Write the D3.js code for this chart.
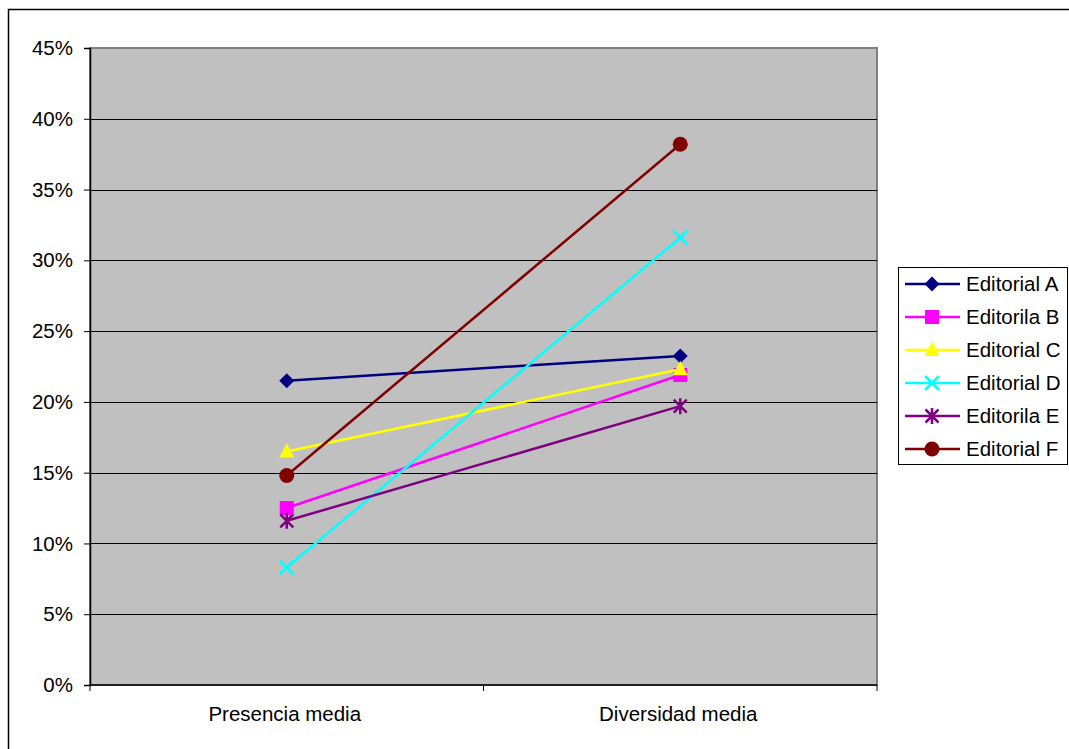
<!DOCTYPE html>
<html>
<head>
<meta charset="utf-8">
<script src="https://cdn.jsdelivr.net/npm/d3@7"></script>
<style>
  html, body { margin: 0; padding: 0; background: #fff; }
  svg { display: block; font-family: "Liberation Sans", Arial, sans-serif; }
</style>
</head>
<body>
<svg id="chart" width="1069" height="749"></svg>
<script>
// Categories on the x axis
const categories = ["Presencia media", "Diversidad media"];

// Series names, colours and symbols
const seriesNames = ["Editorial A", "Editorila B", "Editorial C", "Editorial D", "Editorila E", "Editorial F"];
const seriesColors = ["#000080", "#FF00FF", "#FFFF00", "#00FFFF", "#800080", "#800000"];
const seriesMarkers = ["diamond", "square", "triangle", "x", "asterisk", "circle"];

// Values (fractions) per series, one per category
const valuesA = [0.215, 0.2325];
const valuesB = [0.125, 0.219];
const valuesC = [0.165, 0.223];
const valuesD = [0.083, 0.316];
const valuesE = [0.116, 0.197];
const valuesF = [0.148, 0.382];
const seriesValues = [valuesA, valuesB, valuesC, valuesD, valuesE, valuesF];

// Y axis ticks
const yTicks = [0, 0.05, 0.10, 0.15, 0.20, 0.25, 0.30, 0.35, 0.40, 0.45];

const svg = d3.select("#chart");

// outer chart border
svg.append("rect")
  .attr("x", 8.5).attr("y", 9.5)
  .attr("width", 1069).attr("height", 749)
  .attr("fill", "#fff").attr("stroke", "#000").attr("stroke-width", 1.5);

const plot = { left: 90, top: 48, right: 877, bottom: 685 };

const x = d3.scaleBand().domain(categories).range([plot.left, plot.right]);
const y = d3.scaleLinear().domain([0, 0.45]).range([plot.bottom, plot.top]);

// plot background
svg.append("rect")
  .attr("x", plot.left).attr("y", plot.top)
  .attr("width", plot.right - plot.left).attr("height", plot.bottom - plot.top)
  .attr("fill", "#C0C0C0")
  .attr("stroke", "#808080").attr("stroke-width", 2);

// horizontal gridlines
svg.append("g").selectAll("line")
  .data(yTicks.filter(t => t > 0 && t < 0.45))
  .join("line")
  .attr("x1", plot.left).attr("x2", plot.right)
  .attr("y1", d => Math.round(y(d)) + 0.5).attr("y2", d => Math.round(y(d)) + 0.5)
  .attr("stroke", "#000").attr("stroke-width", 1);

// y axis
const yAxis = d3.axisLeft(y).tickValues(yTicks)
  .tickFormat(d3.format(".0%")).tickSize(6).tickPadding(11);
const gy = svg.append("g").attr("transform", `translate(${plot.left},0)`).call(yAxis);
gy.select(".domain").attr("stroke", "#000").attr("stroke-width", 1.5);
gy.selectAll(".tick line").attr("stroke", "#000");
gy.selectAll(".tick text").attr("font-size", 20.5).attr("fill", "#000")
  .attr("font-family", "Liberation Sans, Arial, sans-serif");

// x axis: ticks at category boundaries
const xAxisG = svg.append("g").attr("transform", `translate(0,${plot.bottom})`);
xAxisG.append("line")
  .attr("x1", plot.left).attr("x2", plot.right)
  .attr("stroke", "#000").attr("stroke-width", 1.5);
const boundaries = [plot.left, ...categories.map(c => x(c) + x.bandwidth())];
xAxisG.selectAll("line.tk").data(boundaries).join("line").attr("class", "tk")
  .attr("x1", d => d).attr("x2", d => d).attr("y1", 0).attr("y2", 6)
  .attr("stroke", "#000");
xAxisG.selectAll("text").data(categories).join("text")
  .attr("x", d => x(d) + x.bandwidth() / 2 - 2).attr("y", 36)
  .attr("text-anchor", "middle").attr("font-size", 20.5).attr("fill", "#000")
  .text(d => d);

// marker drawing helper
function drawMarker(g, type, color, cx, cy) {
  const s = 7.5;
  if (type === "diamond") {
    g.append("path").attr("d", `M${cx},${cy - s}L${cx + s},${cy}L${cx},${cy + s}L${cx - s},${cy}Z`)
      .attr("fill", color);
  } else if (type === "square") {
    g.append("rect").attr("x", cx - 7).attr("y", cy - 7).attr("width", 14).attr("height", 14)
      .attr("fill", color);
  } else if (type === "triangle") {
    g.append("path").attr("d", `M${cx},${cy - 8.5}L${cx + 7.5},${cy + 6}L${cx - 7.5},${cy + 6}Z`)
      .attr("fill", color);
  } else if (type === "x") {
    g.append("path").attr("d", `M${cx - 7},${cy - 7}L${cx + 7},${cy + 7}M${cx - 7},${cy + 7}L${cx + 7},${cy - 7}`)
      .attr("stroke", color).attr("stroke-width", 2.5).attr("fill", "none");
  } else if (type === "asterisk") {
    g.append("path").attr("d", `M${cx - 6.5},${cy - 6.5}L${cx + 6.5},${cy + 6.5}M${cx - 6.5},${cy + 6.5}L${cx + 6.5},${cy - 6.5}M${cx},${cy - 8}L${cx},${cy + 8}`)
      .attr("stroke", color).attr("stroke-width", 2.5).attr("fill", "none");
  } else if (type === "circle") {
    g.append("circle").attr("cx", cx).attr("cy", cy).attr("r", 7.5).attr("fill", color);
  }
}

// series lines and markers
const line = d3.line().x((d, i) => x(categories[i]) + x.bandwidth() / 2).y(d => y(d));
const seriesG = svg.append("g");
seriesNames.forEach((name, si) => {
  const g = seriesG.append("g");
  g.append("path").datum(seriesValues[si]).attr("d", line)
    .attr("fill", "none").attr("stroke", seriesColors[si]).attr("stroke-width", 2.5);
  seriesValues[si].forEach((v, i) => {
    drawMarker(g, seriesMarkers[si], seriesColors[si], x(categories[i]) + x.bandwidth() / 2, y(v));
  });
});

// legend
const legend = svg.append("g");
legend.append("rect")
  .attr("x", 898.5).attr("y", 267.5).attr("width", 169).attr("height", 197)
  .attr("fill", "#fff").attr("stroke", "#000").attr("stroke-width", 1);
seriesNames.forEach((name, si) => {
  const cy = 284 + si * 33;
  const g = legend.append("g");
  g.append("line").attr("x1", 905).attr("x2", 960).attr("y1", cy).attr("y2", cy)
    .attr("stroke", seriesColors[si]).attr("stroke-width", 2.5);
  drawMarker(g, seriesMarkers[si], seriesColors[si], 932, cy);
  g.append("text").attr("x", 966).attr("y", cy + 7)
    .attr("font-size", 20.5).attr("fill", "#000").text(name);
});
</script>
</body>
</html>
